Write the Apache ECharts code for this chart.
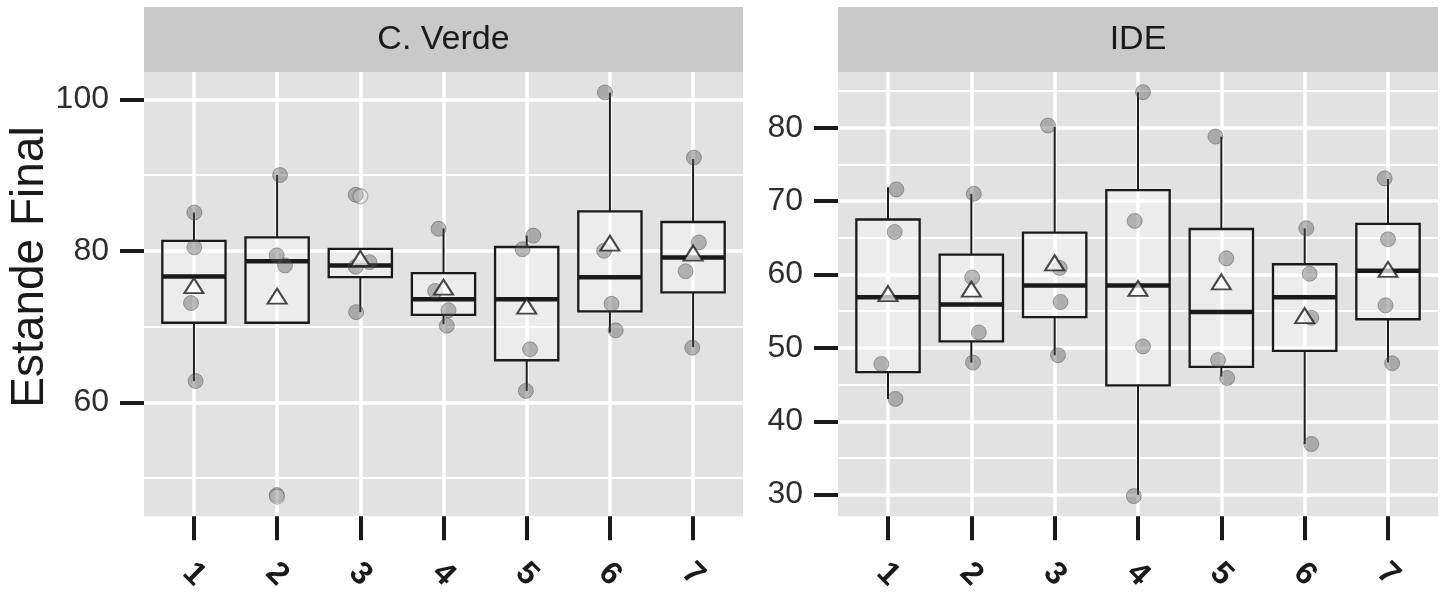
<!DOCTYPE html>
<html>
<head>
<meta charset="utf-8">
<script src="https://cdn.jsdelivr.net/npm/echarts@6/dist/echarts.min.js"></script>
<style>
  html, body { margin: 0; padding: 0; background: #ffffff; }
  #chart { width: 1444px; height: 594px; }
</style>
</head>
<body>
<div id="chart"></div>
<script>
// ---------------- data ----------------
const categories = ['1', '2', '3', '4', '5', '6', '7'];
const panelTitles = ['C. Verde', 'IDE'];
const yTitle = 'Estande Final';

// C. Verde panel
const cvTicks = [60, 80, 100];
const cvMinor = [50, 70, 90];
// [min whisker, Q1, median, Q3, max whisker]
const cvBoxes = [
  [62.8, 70.5, 76.6, 81.3, 85.05],
  [70.5, 70.5, 78.6, 81.77, 90.0],
  [71.9, 76.52, 78.06, 80.24, 80.24],
  [70.3, 71.54, 73.6, 77.05, 82.95],
  [61.5, 65.55, 73.6, 80.5, 82.0],
  [69.2, 72.0, 76.5, 85.2, 100.87],
  [67.3, 74.5, 79.1, 83.8, 92.1]
];
const cvMeans = [75.4, 74.0, 79.0, 75.2, 72.7, 81.0, 79.7];
const cvPointX = [
  [1.005, 1.005, 0.965, 1.02],
  [2.035, 1.995, 2.095, 1.995],
  [2.945, 2.945, 3.11, 2.95],
  [3.94, 3.90, 4.06, 4.04],
  [5.08, 4.95, 5.04, 4.99],
  [5.94, 5.93, 6.02, 6.07],
  [7.01, 7.07, 6.91, 6.99]
];
const cvPointY = [
  [85.05, 80.45, 73.1, 62.8],
  [90.0, 79.4, 78.06, 47.75],
  [87.4, 77.9, 78.5, 71.9],
  [82.9, 74.7, 72.15, 70.1],
  [82.0, 80.2, 67.0, 61.5],
  [100.9, 80.0, 73.0, 69.5],
  [92.3, 81.1, 77.3, 67.2]
];
const cvOutlierX = [2, 3];
const cvOutlierY = [47.55, 87.2];
const cvRange = [44.95, 103.6];

// IDE panel
const ideTicks = [30, 40, 50, 60, 70, 80];
const ideMinor = [35, 45, 55, 65, 75, 85];
const ideBoxes = [
  [43.05, 46.7, 56.9, 67.5, 71.9],
  [48.0, 50.9, 55.9, 62.7, 71.0],
  [49.0, 54.2, 58.5, 65.7, 80.1],
  [30.0, 44.9, 58.5, 71.5, 84.85],
  [46.1, 47.4, 54.9, 66.2, 78.8],
  [36.9, 49.6, 56.9, 61.4, 66.3],
  [48.0, 53.9, 60.5, 66.9, 73.0]
];
const ideMeans = [57.4, 58.0, 61.6, 58.1, 59.0, 54.4, 60.7];
const idePointX = [
  [1.10, 1.08, 0.92, 1.09],
  [2.03, 2.01, 2.09, 2.02],
  [2.92, 3.06, 3.07, 3.04],
  [4.06, 3.96, 4.06, 3.95],
  [4.93, 5.06, 4.96, 5.07],
  [6.02, 6.06, 6.08, 6.08],
  [6.96, 7.00, 6.97, 7.05]
];
const idePointY = [
  [71.6, 65.8, 47.8, 43.05],
  [71.0, 59.6, 52.1, 48.0],
  [80.3, 60.9, 56.25, 49.0],
  [84.85, 67.3, 50.2, 29.8],
  [78.8, 62.2, 48.35, 45.9],
  [66.3, 60.1, 54.1, 36.9],
  [73.1, 64.8, 55.8, 47.9]
];
const ideRange = [27.05, 87.6];

// ---------------- layout / style ----------------
const FONT = '"Liberation Sans", Arial, Helvetica, sans-serif';
const panelTop = 72, panelH = 447, stripTop = 7;
const panels = [{ left: 144, width: 599 }, { left: 838, width: 600 }];
const catValues = categories.map((c, i) => i + 1);

function boxData(boxes) {
  return boxes.map((b, i) => [i + 1].concat(b));
}
function pointData(xs, ys) {
  const out = [];
  xs.forEach((row, i) => row.forEach((x, j) => out.push([x, ys[i][j]])));
  return out;
}
function meanData(means) {
  return means.map((m, i) => [i + 1, m]);
}
function zip(xs, ys) { return xs.map((x, i) => [x, ys[i]]); }

function renderBox(params, api) {
  const x = api.value(0);
  const p = [1, 2, 3, 4, 5].map(k => api.coord([x, api.value(k)]));
  const w = api.size([0.76, 0])[0];
  const cx = p[0][0];
  const ink = '#1a1a1a';
  return {
    type: 'group',
    children: [
      { type: 'line', shape: { x1: cx, y1: p[0][1], x2: cx, y2: p[1][1] }, style: { stroke: ink, lineWidth: 2 } },
      { type: 'line', shape: { x1: cx, y1: p[3][1], x2: cx, y2: p[4][1] }, style: { stroke: ink, lineWidth: 2 } },
      { type: 'rect', shape: { x: cx - w / 2, y: p[3][1], width: w, height: p[1][1] - p[3][1] },
        style: { fill: 'rgba(255,255,255,0.35)', stroke: ink, lineWidth: 2.3 } },
      { type: 'line', shape: { x1: cx - w / 2, y1: p[2][1], x2: cx + w / 2, y2: p[2][1] }, style: { stroke: ink, lineWidth: 4.5 } }
    ]
  };
}

function xAxisFor(gi) {
  return {
    type: 'value', gridIndex: gi, min: 0.4, max: 7.6,
    axisLine: { show: false },
    axisTick: { show: true, customValues: catValues, length: 24, lineStyle: { color: '#1a1a1a', width: 4 } },
    axisLabel: {
      show: true, customValues: catValues, rotate: -45, margin: 58,
      align: 'center', verticalAlign: 'middle',
      formatter: v => categories[Math.round(v) - 1],
      fontFamily: FONT, fontSize: 32, fontWeight: 'bold', color: '#1a1a1a'
    },
    splitLine: { show: true, lineStyle: { color: '#ffffff', width: 3.5 } }
  };
}
function yMajor(gi, range, ticks) {
  return {
    type: 'value', gridIndex: gi, min: range[0], max: range[1], position: 'left',
    axisLine: { show: false },
    axisTick: { show: true, customValues: ticks, length: 24, lineStyle: { color: '#1a1a1a', width: 4 } },
    axisLabel: { show: true, customValues: ticks, margin: 35, fontFamily: FONT, fontSize: 32, color: '#2e2e2e' },
    splitLine: { show: true, lineStyle: { color: '#ffffff', width: 3.5 } }
  };
}
function yMinor(gi, range, ticks) {
  return {
    type: 'value', gridIndex: gi, min: range[0], max: range[1], position: 'left',
    axisLine: { show: false },
    axisTick: { show: false, customValues: ticks },
    axisLabel: { show: false, customValues: ticks },
    splitLine: { show: true, lineStyle: { color: '#ffffff', width: 1.8 } }
  };
}

function seriesFor(gi, boxes, px, py, means, outX, outY) {
  const s = [
    { type: 'custom', xAxisIndex: gi, yAxisIndex: gi * 2, renderItem: renderBox,
      data: boxData(boxes), encode: { x: 0, y: [1, 2, 3, 4, 5] }, z: 2, silent: true },
    { type: 'scatter', xAxisIndex: gi, yAxisIndex: gi * 2, data: pointData(px, py),
      symbol: 'circle', symbolSize: 15, z: 3, silent: true,
      itemStyle: { color: 'rgba(85,85,85,0.5)', borderColor: 'rgba(60,60,60,0.5)', borderWidth: 1 } }
  ];
  if (outX) {
    s.push({ type: 'scatter', xAxisIndex: gi, yAxisIndex: gi * 2, data: zip(outX, outY),
      symbol: 'circle', symbolSize: 15, z: 3, silent: true,
      itemStyle: { color: 'rgba(255,255,255,0.15)', borderColor: 'rgba(90,90,90,0.55)', borderWidth: 1.3 } });
  }
  s.push({ type: 'scatter', xAxisIndex: gi, yAxisIndex: gi * 2, data: meanData(means),
    symbol: 'triangle', symbolSize: [19, 15], z: 4, silent: true,
    itemStyle: { color: 'rgba(255,255,255,0.85)', borderColor: '#1a1a1a', borderWidth: 2 } });
  return s;
}

const graphics = [];
panels.forEach((p, i) => {
  graphics.push({ type: 'rect', left: p.left, top: stripTop, shape: { width: p.width, height: panelTop - stripTop },
    style: { fill: '#c9c9c9' }, silent: true });
  graphics.push({ type: 'text', x: p.left + p.width / 2, y: (stripTop + panelTop) / 2,
    style: { text: panelTitles[i], fontFamily: FONT, fontSize: 34, fill: '#1a1a1a', align: 'center', verticalAlign: 'middle' },
    silent: true });
});
graphics.push({ type: 'text', x: 30, y: 267, rotation: Math.PI / 2,
  style: { text: yTitle, fontFamily: FONT, fontSize: 46, fill: '#1a1a1a', align: 'center', verticalAlign: 'middle' },
  silent: true });

const option = {
  animation: false,
  backgroundColor: '#ffffff',
  grid: panels.map(p => ({ left: p.left, width: p.width, top: panelTop, height: panelH,
    show: true, backgroundColor: '#e2e2e2', borderWidth: 0, containLabel: false })),
  xAxis: [xAxisFor(0), xAxisFor(1)],
  yAxis: [yMajor(0, cvRange, cvTicks), yMinor(0, cvRange, cvMinor), yMajor(1, ideRange, ideTicks), yMinor(1, ideRange, ideMinor)],
  series: [].concat(
    seriesFor(0, cvBoxes, cvPointX, cvPointY, cvMeans, cvOutlierX, cvOutlierY),
    seriesFor(1, ideBoxes, idePointX, idePointY, ideMeans, null, null)
  ),
  graphic: graphics
};

const chart = echarts.init(document.getElementById('chart'), null, { renderer: 'canvas' });
chart.setOption(option);
</script>
</body>
</html>
